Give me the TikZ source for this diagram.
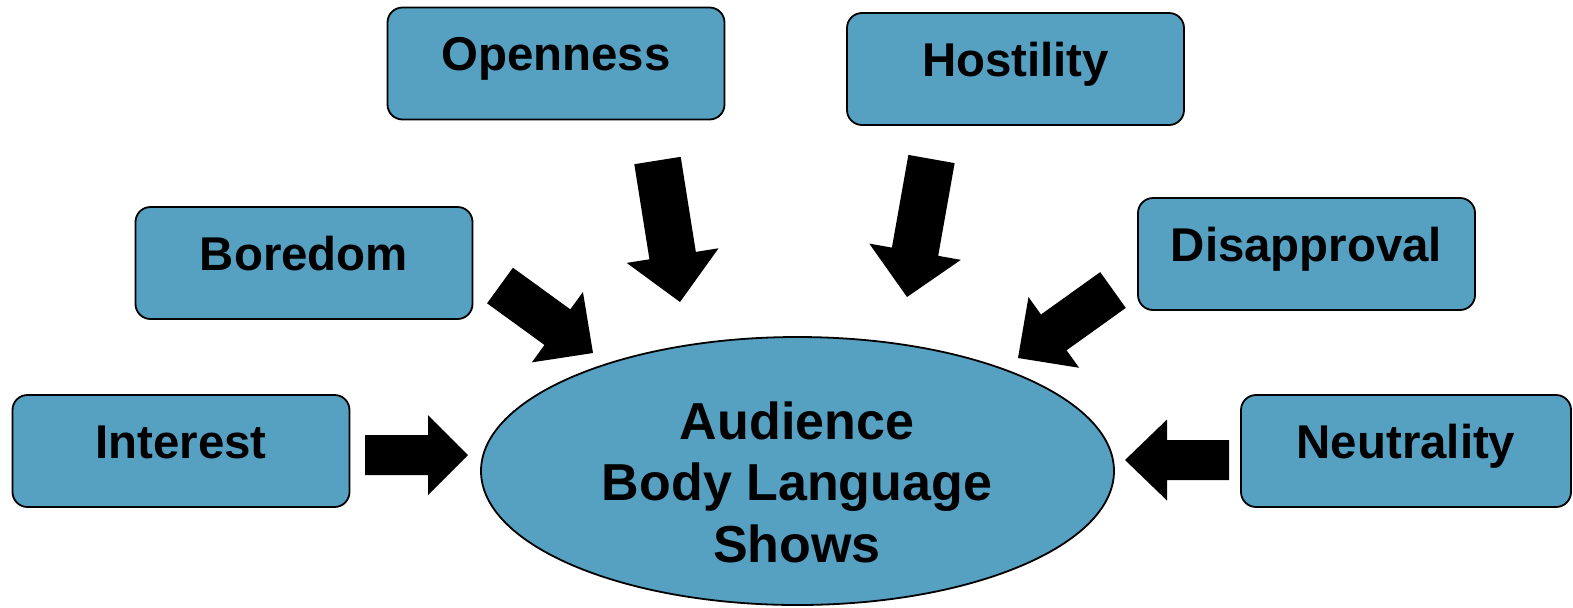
\documentclass[tikz,border=0pt]{standalone}
\usepackage{fontspec}
\setmainfont{Liberation Sans}
\usetikzlibrary{calc,shapes.geometric}

\definecolor{boxblue}{RGB}{86,160,193}

\tikzset{
  cue/.style={draw=black, line width=0.9pt, fill=boxblue, rounded corners=7.5pt,
    minimum width=168.5pt, minimum height=56pt, inner sep=0pt,
    text height=12pt, text depth=5pt,
    font=\bfseries\fontsize{23.7}{28}\selectfont},
  hub/.style={ellipse, draw=black, line width=0.9pt, fill=boxblue,
    minimum width=316.5pt, minimum height=134pt, inner sep=0pt},
  hubtext/.style={font=\bfseries\fontsize{26}{30.75}\selectfont, align=center, inner sep=0pt},
  blockfill/.style={fill=black}
}

% Block arrow from tail #1 to tip #2: shaft half-width #3, head half-width #4, head length #5
\newcommand\blockarrow[5]{%
  \coordinate (#2-base) at ($(#2)!#5!(#1)$);
  \fill[blockfill] ($(#1)!#3!90:(#2)$)
    -- ($(#2-base)!#3!-90:(#1)$)
    -- ($(#2-base)!#4!-90:(#1)$)
    -- (#2)
    -- ($(#2-base)!#4!90:(#1)$)
    -- ($(#2-base)!#3!90:(#1)$)
    -- ($(#1)!#3!-90:(#2)$) -- cycle;}

\begin{document}
\begin{tikzpicture}[x=0.5pt, y=-0.5pt]
  \useasboundingbox (0,0) rectangle (1573,607);

  % central ellipse
  \node[hub] (hub) at (797.5,471) {};
  \node[hubtext, anchor=north] (hubtext) at (797,401) {Audience\\Body Language\\Shows};

  % surrounding cues
  \node[cue] (openness) at (556,63.5) {Openness};
  \node[cue] (hostility) at (1015.5,69) {Hostility};
  \node[cue] (boredom) at (304,263) {Boredom};
  \node[cue] (disapproval) at (1306.5,254) {Disapproval};
  \node[cue] (interest) at (181,451) {Interest};
  \node[cue, minimum width=165pt] (neutrality) at (1406,451) {Neutrality};

  % arrow end points
  \coordinate (interestTail) at (365,455);
  \coordinate (interestTip) at (468,455);
  \coordinate (neutralityTail) at (1229,460);
  \coordinate (neutralityTip) at (1125,460);
  \coordinate (opennessTail) at (657.5,160.5);
  \coordinate (opennessTip) at (680,302);
  \coordinate (hostilityTail) at (931.5,159);
  \coordinate (hostilityTip) at (907,297);
  \coordinate (boredomTail) at (500,285.5);
  \coordinate (boredomTip) at (593,353);
  \coordinate (disapprovalTail) at (1113,290);
  \coordinate (disapprovalTip) at (1018,358);

  \blockarrow{interestTail}{interestTip}{10pt}{20pt}{20pt}
  \blockarrow{neutralityTail}{neutralityTip}{10pt}{20.25pt}{21pt}
  \blockarrow{opennessTail}{opennessTip}{11.75pt}{23.25pt}{23.5pt}
  \blockarrow{hostilityTail}{hostilityTip}{11.75pt}{23.25pt}{23pt}
  \blockarrow{boredomTail}{boredomTip}{11pt}{21.75pt}{22pt}
  \blockarrow{disapprovalTail}{disapprovalTip}{11pt}{21.75pt}{22pt}
\end{tikzpicture}
\end{document}
